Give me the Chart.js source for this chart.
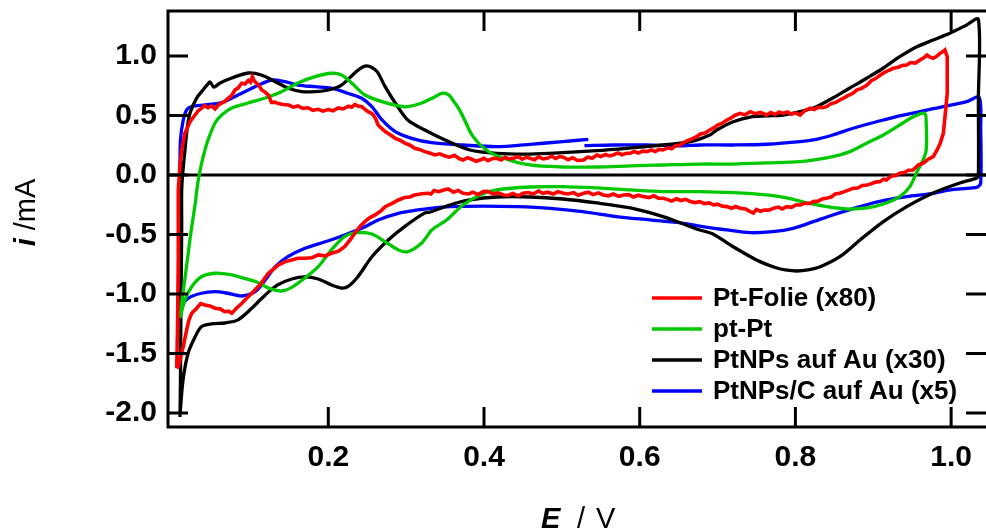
<!DOCTYPE html>
<html>
<head>
<meta charset="utf-8">
<script src="https://cdn.jsdelivr.net/npm/chart.js@4/dist/chart.umd.min.js"></script>
<style>
  html, body { margin: 0; padding: 0; background: #ffffff; }
  canvas { display: block; }
</style>
</head>
<body>
<canvas id="cv" width="986" height="532"></canvas>
<script>
// Cyclic voltammograms: potential E in V, current i in mA (scaled as noted in the legend)
const potentialTicks = [0.2, 0.4, 0.6, 0.8, 1.0];
const currentTicks = [-2.0, -1.5, -1.0, -0.5, 0.0, 0.5, 1.0];
const potentialRange = [-0.0059, 1.0448];
const currentRange = [-2.118, 1.378];

const seriesNames = ['Pt-Folie (x80)', 'pt-Pt', 'PtNPs auf Au (x30)', 'PtNPs/C auf Au (x5)'];
const seriesColors = ['#ff0000', '#00c800', '#000000', '#0000ff'];

// Pt foil, x80 (noisy trace)
const ptFolie = [
  [0.0053,-1.624],[0.0063,-1.303],[0.0073,-0.714],[0.0073,-0.126],[0.0095,0.084],[0.0117,0.210],[0.0159,0.353],
  [0.0224,0.448],[0.0288,0.504],[0.033,0.540],[0.0374,0.561],[0.041,0.582],[0.0455,0.566],[0.050,0.580],
  [0.0545,0.555],[0.059,0.590],[0.063,0.603],[0.067,0.618],[0.0716,0.645],[0.076,0.668],[0.080,0.714],
  [0.084,0.730],[0.0888,0.771],[0.093,0.765],[0.0972,0.795],[0.100,0.780],[0.1024,0.825],[0.105,0.790],
  [0.108,0.771],[0.111,0.750],[0.1145,0.714],[0.118,0.700],[0.123,0.672],[0.125,0.640],[0.127,0.610],
  [0.131,0.612],[0.136,0.600],[0.142,0.592],[0.149,0.588],[0.155,0.570],[0.161,0.580],[0.167,0.560],
  [0.174,0.565],[0.180,0.543],[0.187,0.552],[0.193,0.536],[0.200,0.550],[0.206,0.540],[0.213,0.563],
  [0.219,0.555],[0.226,0.578],[0.230,0.570],[0.234,0.592],[0.238,0.580],[0.243,0.574],[0.247,0.552],
  [0.251,0.532],[0.255,0.520],[0.258,0.504],[0.261,0.470],[0.264,0.420],[0.268,0.395],[0.273,0.364],
  [0.279,0.340],[0.286,0.308],[0.292,0.292],[0.299,0.266],[0.305,0.250],[0.311,0.224],[0.317,0.215],
  [0.324,0.196],[0.330,0.185],[0.337,0.168],[0.343,0.178],[0.350,0.160],[0.356,0.150],[0.362,0.165],
  [0.368,0.138],[0.373,0.126],[0.379,0.145],[0.385,0.130],[0.390,0.115],[0.395,0.126],[0.400,0.140],
  [0.405,0.120],[0.411,0.138],[0.416,0.140],[0.422,0.125],[0.427,0.148],[0.432,0.135],[0.438,0.140],
  [0.444,0.155],[0.449,0.132],[0.454,0.148],[0.459,0.140],[0.465,0.128],[0.470,0.152],[0.476,0.135],
  [0.481,0.140],[0.487,0.158],[0.492,0.138],[0.497,0.155],[0.502,0.149],[0.508,0.128],[0.514,0.145],
  [0.520,0.122],[0.528,0.126],[0.533,0.150],[0.539,0.140],[0.545,0.168],[0.550,0.155],[0.556,0.172],
  [0.561,0.160],[0.566,0.168],[0.572,0.185],[0.577,0.170],[0.583,0.182],[0.588,0.182],[0.593,0.198],
  [0.598,0.185],[0.604,0.200],[0.609,0.196],[0.615,0.210],[0.620,0.198],[0.625,0.215],[0.630,0.210],
  [0.636,0.228],[0.641,0.220],[0.646,0.245],[0.652,0.252],[0.657,0.275],[0.662,0.290],[0.668,0.305],
  [0.673,0.322],[0.678,0.345],[0.684,0.352],[0.690,0.378],[0.695,0.395],[0.700,0.420],[0.706,0.435],
  [0.712,0.462],[0.717,0.478],[0.722,0.500],[0.729,0.518],[0.735,0.505],[0.742,0.532],[0.748,0.515],
  [0.755,0.525],[0.763,0.504],[0.768,0.525],[0.774,0.508],[0.779,0.530],[0.784,0.518],[0.790,0.530],
  [0.795,0.510],[0.800,0.522],[0.806,0.504],[0.812,0.540],[0.819,0.561],[0.824,0.550],[0.830,0.570],
  [0.835,0.565],[0.840,0.574],[0.846,0.600],[0.852,0.610],[0.857,0.630],[0.863,0.650],[0.868,0.670],
  [0.874,0.687],[0.879,0.715],[0.885,0.728],[0.892,0.756],[0.897,0.790],[0.903,0.810],[0.909,0.840],
  [0.914,0.860],[0.920,0.880],[0.926,0.897],[0.932,0.905],[0.937,0.920],[0.943,0.924],[0.948,0.945],
  [0.954,0.940],[0.960,0.966],[0.965,0.985],[0.969,1.008],[0.973,0.990],[0.977,0.980],[0.981,0.995],
  [0.986,1.023],[0.989,1.035],[0.992,1.050],[0.995,0.994],[0.995,0.687],[0.993,0.546],[0.990,0.350],
  [0.986,0.266],[0.982,0.210],[0.977,0.154],[0.970,0.130],[0.964,0.098],[0.958,0.085],[0.951,0.042],
  [0.945,0.040],[0.940,0.020],[0.934,0.014],[0.929,-0.005],[0.923,-0.010],[0.917,-0.042],[0.913,-0.035],
  [0.909,-0.056],[0.903,-0.060],[0.897,-0.075],[0.892,-0.084],[0.886,-0.088],[0.880,-0.110],[0.874,-0.112],
  [0.869,-0.125],[0.863,-0.140],[0.857,-0.154],[0.851,-0.160],[0.846,-0.185],[0.840,-0.196],[0.835,-0.200],
  [0.829,-0.220],[0.823,-0.224],[0.818,-0.240],[0.812,-0.238],[0.806,-0.252],[0.801,-0.250],[0.795,-0.272],
  [0.789,-0.266],[0.783,-0.285],[0.778,-0.270],[0.772,-0.280],[0.766,-0.295],[0.760,-0.294],[0.755,-0.305],
  [0.750,-0.290],[0.746,-0.320],[0.742,-0.308],[0.736,-0.285],[0.729,-0.280],[0.723,-0.265],[0.718,-0.280],
  [0.712,-0.266],[0.706,-0.262],[0.700,-0.245],[0.695,-0.252],[0.689,-0.235],[0.683,-0.240],[0.677,-0.224],
  [0.671,-0.232],[0.665,-0.224],[0.659,-0.205],[0.653,-0.215],[0.647,-0.200],[0.641,-0.220],[0.635,-0.205],
  [0.630,-0.196],[0.624,-0.195],[0.618,-0.175],[0.612,-0.190],[0.605,-0.182],[0.598,-0.170],[0.592,-0.185],
  [0.586,-0.165],[0.579,-0.168],[0.573,-0.180],[0.566,-0.160],[0.560,-0.175],[0.553,-0.168],[0.547,-0.150],
  [0.540,-0.165],[0.534,-0.145],[0.528,-0.154],[0.521,-0.170],[0.515,-0.148],[0.508,-0.160],[0.502,-0.154],
  [0.495,-0.140],[0.489,-0.160],[0.482,-0.145],[0.476,-0.154],[0.470,-0.135],[0.463,-0.160],[0.457,-0.148],
  [0.450,-0.154],[0.444,-0.175],[0.437,-0.155],[0.431,-0.172],[0.425,-0.168],[0.418,-0.150],[0.412,-0.160],
  [0.405,-0.138],[0.399,-0.140],[0.392,-0.165],[0.386,-0.145],[0.380,-0.160],[0.373,-0.154],[0.367,-0.130],
  [0.361,-0.145],[0.354,-0.118],[0.348,-0.126],[0.342,-0.140],[0.336,-0.130],[0.332,-0.160],[0.328,-0.154],
  [0.320,-0.158],[0.311,-0.168],[0.305,-0.185],[0.298,-0.190],[0.290,-0.210],[0.282,-0.238],[0.273,-0.266],
  [0.267,-0.305],[0.260,-0.336],[0.253,-0.360],[0.247,-0.392],[0.241,-0.430],[0.234,-0.490],[0.228,-0.545],
  [0.221,-0.603],[0.213,-0.640],[0.204,-0.658],[0.196,-0.680],[0.187,-0.672],[0.179,-0.695],[0.170,-0.700],
  [0.161,-0.700],[0.153,-0.714],[0.145,-0.728],[0.136,-0.756],[0.130,-0.790],[0.123,-0.826],[0.118,-0.870],
  [0.114,-0.910],[0.108,-0.950],[0.102,-0.994],[0.096,-1.030],[0.089,-1.078],[0.082,-1.120],[0.076,-1.162],
  [0.072,-1.145],[0.067,-1.149],[0.061,-1.125],[0.0545,-1.120],[0.048,-1.100],[0.0416,-1.092],[0.036,-1.080],
  [0.031,-1.120],[0.0245,-1.162],[0.021,-1.220],[0.018,-1.303],[0.0137,-1.443],[0.0073,-1.611],[0.0053,-1.624]
];

// polycrystalline Pt
const ptPt = [
  [0.0095,-1.202],[0.0121,-1.050],[0.0159,-0.866],[0.0198,-0.672],[0.0236,-0.479],[0.0288,-0.252],
  [0.0326,-0.059],[0.0374,0.101],[0.0416,0.210],[0.0455,0.294],[0.0545,0.437],[0.063,0.504],[0.076,0.563],
  [0.097,0.605],[0.119,0.647],[0.140,0.700],[0.161,0.773],[0.183,0.826],[0.204,0.855],[0.217,0.840],
  [0.230,0.773],[0.247,0.672],[0.269,0.616],[0.290,0.580],[0.302,0.574],[0.320,0.605],[0.337,0.658],
  [0.347,0.687],[0.355,0.672],[0.360,0.630],[0.367,0.563],[0.373,0.490],[0.386,0.322],[0.403,0.210],
  [0.424,0.143],[0.459,0.084],[0.501,0.067],[0.545,0.067],[0.588,0.076],[0.630,0.084],[0.677,0.092],
  [0.720,0.092],[0.763,0.101],[0.806,0.112],[0.848,0.154],[0.870,0.196],[0.892,0.269],[0.913,0.336],
  [0.934,0.420],[0.951,0.487],[0.966,0.518],[0.968,0.437],[0.968,0.210],[0.964,0.126],[0.956,0.025],
  [0.947,-0.098],[0.934,-0.182],[0.917,-0.235],[0.892,-0.277],[0.866,-0.286],[0.840,-0.266],[0.815,-0.235],
  [0.789,-0.193],[0.763,-0.168],[0.720,-0.149],[0.677,-0.140],[0.630,-0.140],[0.588,-0.126],[0.545,-0.109],
  [0.501,-0.098],[0.459,-0.101],[0.416,-0.126],[0.395,-0.168],[0.373,-0.252],[0.352,-0.378],[0.333,-0.462],
  [0.320,-0.571],[0.302,-0.645],[0.290,-0.630],[0.273,-0.561],[0.256,-0.496],[0.238,-0.485],[0.221,-0.518],
  [0.204,-0.630],[0.187,-0.771],[0.170,-0.866],[0.153,-0.945],[0.140,-0.975],[0.125,-0.955],[0.108,-0.900],
  [0.090,-0.865],[0.076,-0.840],[0.0545,-0.826],[0.037,-0.855],[0.0245,-0.939],[0.0159,-1.050],[0.0095,-1.202]
];

// Pt nanoparticles on Au, x30
const ptNPsAu = [
  [0.0095,-2.034],[0.0101,-1.723],[0.0108,-1.050],[0.0117,-0.462],[0.0117,-0.126],[0.0134,0.042],
  [0.0159,0.210],[0.0185,0.378],[0.0224,0.521],[0.031,0.647],[0.039,0.714],[0.0455,0.765],[0.048,0.782],
  [0.053,0.739],[0.061,0.773],[0.076,0.815],[0.097,0.857],[0.114,0.840],[0.132,0.784],[0.148,0.731],
  [0.166,0.700],[0.183,0.700],[0.200,0.714],[0.217,0.756],[0.234,0.857],[0.242,0.899],[0.249,0.916],
  [0.256,0.903],[0.263,0.866],[0.273,0.742],[0.286,0.605],[0.302,0.462],[0.324,0.378],[0.350,0.294],
  [0.382,0.210],[0.416,0.182],[0.459,0.176],[0.501,0.187],[0.545,0.204],[0.588,0.227],[0.630,0.252],
  [0.665,0.280],[0.690,0.336],[0.699,0.378],[0.720,0.448],[0.742,0.487],[0.763,0.496],[0.784,0.504],
  [0.806,0.532],[0.827,0.574],[0.848,0.647],[0.870,0.731],[0.892,0.815],[0.913,0.899],[0.934,0.994],
  [0.956,1.078],[0.977,1.134],[0.999,1.193],[1.020,1.261],[1.035,1.308],[1.035,0.630],[1.035,0.0],
  [1.033,-0.025],[1.011,-0.067],[0.977,-0.151],[0.943,-0.266],[0.913,-0.392],[0.883,-0.546],[0.857,-0.687],
  [0.832,-0.771],[0.816,-0.798],[0.802,-0.807],[0.787,-0.798],[0.776,-0.782],[0.750,-0.714],[0.720,-0.603],
  [0.694,-0.496],[0.677,-0.462],[0.665,-0.434],[0.630,-0.350],[0.588,-0.277],[0.545,-0.235],[0.501,-0.202],
  [0.459,-0.185],[0.416,-0.185],[0.382,-0.210],[0.356,-0.252],[0.331,-0.311],[0.324,-0.319],[0.298,-0.434],
  [0.277,-0.546],[0.256,-0.687],[0.238,-0.855],[0.225,-0.939],[0.217,-0.950],[0.204,-0.924],[0.187,-0.874],
  [0.170,-0.857],[0.153,-0.874],[0.135,-0.924],[0.119,-1.008],[0.102,-1.118],[0.084,-1.218],[0.067,-1.244],
  [0.050,-1.252],[0.037,-1.275],[0.029,-1.359],[0.020,-1.496],[0.0134,-1.723],[0.0095,-2.017]
];

// Pt nanoparticles on carbon on Au, x5 (scan starts and ends near 0.53 V)
const ptNPsC = [
  [0.529,0.246],[0.566,0.252],[0.609,0.252],[0.652,0.244],[0.677,0.252],[0.720,0.252],[0.763,0.258],
  [0.806,0.280],[0.827,0.300],[0.848,0.336],[0.870,0.384],[0.892,0.426],[0.913,0.462],[0.934,0.496],
  [0.977,0.557],[1.020,0.616],[1.036,0.653],[1.038,0.378],[1.038,-0.067],[1.034,-0.101],[1.020,-0.112],
  [0.999,-0.126],[0.977,-0.154],[0.943,-0.182],[0.917,-0.210],[0.883,-0.266],[0.848,-0.336],[0.823,-0.392],
  [0.797,-0.448],[0.771,-0.476],[0.742,-0.485],[0.712,-0.462],[0.677,-0.429],[0.656,-0.406],[0.613,-0.378],
  [0.570,-0.350],[0.527,-0.308],[0.485,-0.280],[0.442,-0.266],[0.399,-0.261],[0.356,-0.266],[0.331,-0.280],
  [0.315,-0.294],[0.290,-0.322],[0.264,-0.378],[0.243,-0.448],[0.221,-0.504],[0.196,-0.561],[0.170,-0.616],
  [0.148,-0.687],[0.132,-0.771],[0.119,-0.882],[0.106,-0.981],[0.089,-1.017],[0.071,-0.994],[0.0545,-0.981],
  [0.037,-0.994],[0.020,-1.036],[0.0117,-1.107],[0.0082,-1.218],[0.0089,-0.630],[0.0095,0.0],[0.0101,0.294],
  [0.0137,0.462],[0.018,0.546],[0.0245,0.574],[0.0416,0.588],[0.063,0.608],[0.084,0.672],[0.106,0.742],
  [0.127,0.798],[0.144,0.784],[0.161,0.756],[0.183,0.742],[0.204,0.729],[0.225,0.687],[0.243,0.645],
  [0.256,0.574],[0.269,0.462],[0.286,0.364],[0.307,0.308],[0.333,0.271],[0.373,0.252],[0.416,0.238],
  [0.459,0.258],[0.501,0.280],[0.534,0.300]
];

const seriesData = [ptFolie, ptPt, ptNPsAu, ptNPsC];
const seriesTension = [0, 0.3, 0.3, 0.3];
const seriesWidth = [3.6, 3.3, 3.3, 3.3];

const FONT = '"Liberation Sans", Arial, Helvetica, sans-serif';

// Frame, inward ticks, zero line, axis titles and legend
const framePlugin = {
  id: 'cvFrame',
  beforeDatasetsDraw(chart) {
    const { ctx, chartArea: a, scales: { y } } = chart;
    const y0 = y.getPixelForValue(0);
    ctx.save();
    ctx.strokeStyle = '#000';
    ctx.lineWidth = 3;
    ctx.beginPath();
    ctx.moveTo(a.left, y0);
    ctx.lineTo(a.right, y0);
    ctx.stroke();
    ctx.restore();
  },
  afterDatasetsDraw(chart) {
    const { ctx, chartArea: a, scales: { x, y } } = chart;
    ctx.save();
    ctx.strokeStyle = '#000';
    ctx.lineWidth = 3;
    ctx.lineCap = 'butt';
    ctx.beginPath();
    ctx.moveTo(a.right + 2, a.top);
    ctx.lineTo(a.left, a.top);
    ctx.lineTo(a.left, a.bottom);
    ctx.lineTo(a.right + 2, a.bottom);
    ctx.stroke();
    const tick = 20;
    ctx.beginPath();
    potentialTicks.forEach(v => {
      const px = x.getPixelForValue(v);
      ctx.moveTo(px, a.top); ctx.lineTo(px, a.top + tick);
      ctx.moveTo(px, a.bottom); ctx.lineTo(px, a.bottom - tick);
    });
    currentTicks.forEach(v => {
      const py = y.getPixelForValue(v);
      ctx.moveTo(a.left, py); ctx.lineTo(a.left + tick, py);
      ctx.moveTo(a.right, py); ctx.lineTo(a.right - tick, py);
    });
    ctx.stroke();
    ctx.restore();
  },
  afterDraw(chart) {
    const { ctx } = chart;
    ctx.save();
    ctx.fillStyle = '#000';

    // y title: "i /mA"
    ctx.save();
    ctx.translate(35, 212.5);
    ctx.rotate(-Math.PI / 2);
    ctx.textBaseline = 'alphabetic';
    ctx.textAlign = 'left';
    const fI = 'italic bold 29px ' + FONT;
    const fR = '29px ' + FONT;
    ctx.font = fI; const wI = ctx.measureText('i').width;
    ctx.font = fR; const wR = ctx.measureText(' /mA').width;
    const start = -(wI + wR) / 2;
    ctx.font = fI; ctx.fillText('i', start, 0);
    ctx.font = fR; ctx.fillText(' /mA', start + wI, 0);
    ctx.restore();

    // x title: "E / V"
    ctx.textBaseline = 'alphabetic';
    ctx.textAlign = 'left';
    ctx.font = 'italic bold 29px ' + FONT;
    ctx.fillText('E', 541, 528);
    ctx.font = '29px ' + FONT;
    ctx.fillText('/', 577, 528);
    ctx.fillText('V', 596, 528);

    // legend
    const lx0 = 652, lx1 = 702, tx = 713, ty0 = 298, dy = 31;
    ctx.font = 'bold 26px ' + FONT;
    ctx.textBaseline = 'middle';
    chart.data.datasets.forEach((ds, k) => {
      const ly = ty0 + k * dy;
      ctx.strokeStyle = ds.borderColor;
      ctx.lineWidth = 3.5;
      ctx.beginPath();
      ctx.moveTo(lx0, ly); ctx.lineTo(lx1, ly);
      ctx.stroke();
      ctx.fillStyle = '#000';
      ctx.fillText(ds.label, tx, ly + 1);
    });
    ctx.restore();
  }
};

const datasets = seriesData.map((pts, k) => ({
  label: seriesNames[k],
  data: pts.map(([e, i]) => ({ x: e, y: i })),
  showLine: true,
  borderColor: seriesColors[k],
  backgroundColor: seriesColors[k],
  borderWidth: seriesWidth[k],
  pointRadius: 0,
  pointHoverRadius: 0,
  tension: seriesTension[k],
  fill: false
}));

new Chart(document.getElementById('cv'), {
  type: 'scatter',
  data: { datasets },
  plugins: [framePlugin],
  options: {
    responsive: false,
    animation: false,
    devicePixelRatio: 1,
    events: [],
    layout: { padding: { top: 11, right: 0, left: 0, bottom: 0 } },
    plugins: { legend: { display: false }, tooltip: { enabled: false }, title: { display: false } },
    scales: {
      x: {
        type: 'linear',
        min: potentialRange[0],
        max: potentialRange[1],
        grid: { display: false, drawTicks: false },
        border: { display: false },
        afterBuildTicks(s) { s.ticks = potentialTicks.map(v => ({ value: v })); },
        afterFit(s) { s.height = 105; s.paddingLeft = 0; s.paddingRight = 0; },
        ticks: {
          padding: 13,
          color: '#000',
          maxRotation: 0,
          autoSkip: false,
          font: { family: FONT, size: 30, weight: 'bold' },
          callback: v => Number(v).toFixed(1)
        }
      },
      y: {
        type: 'linear',
        min: currentRange[0],
        max: currentRange[1],
        grid: { display: false, drawTicks: false },
        border: { display: false },
        afterBuildTicks(s) { s.ticks = currentTicks.map(v => ({ value: v })); },
        afterFit(s) { s.width = 168; s.paddingTop = 0; s.paddingBottom = 0; },
        ticks: {
          padding: 11,
          color: '#000',
          autoSkip: false,
          font: { family: FONT, size: 30, weight: 'bold' },
          callback: v => Number(v).toFixed(1)
        }
      }
    }
  }
});
</script>
</body>
</html>
